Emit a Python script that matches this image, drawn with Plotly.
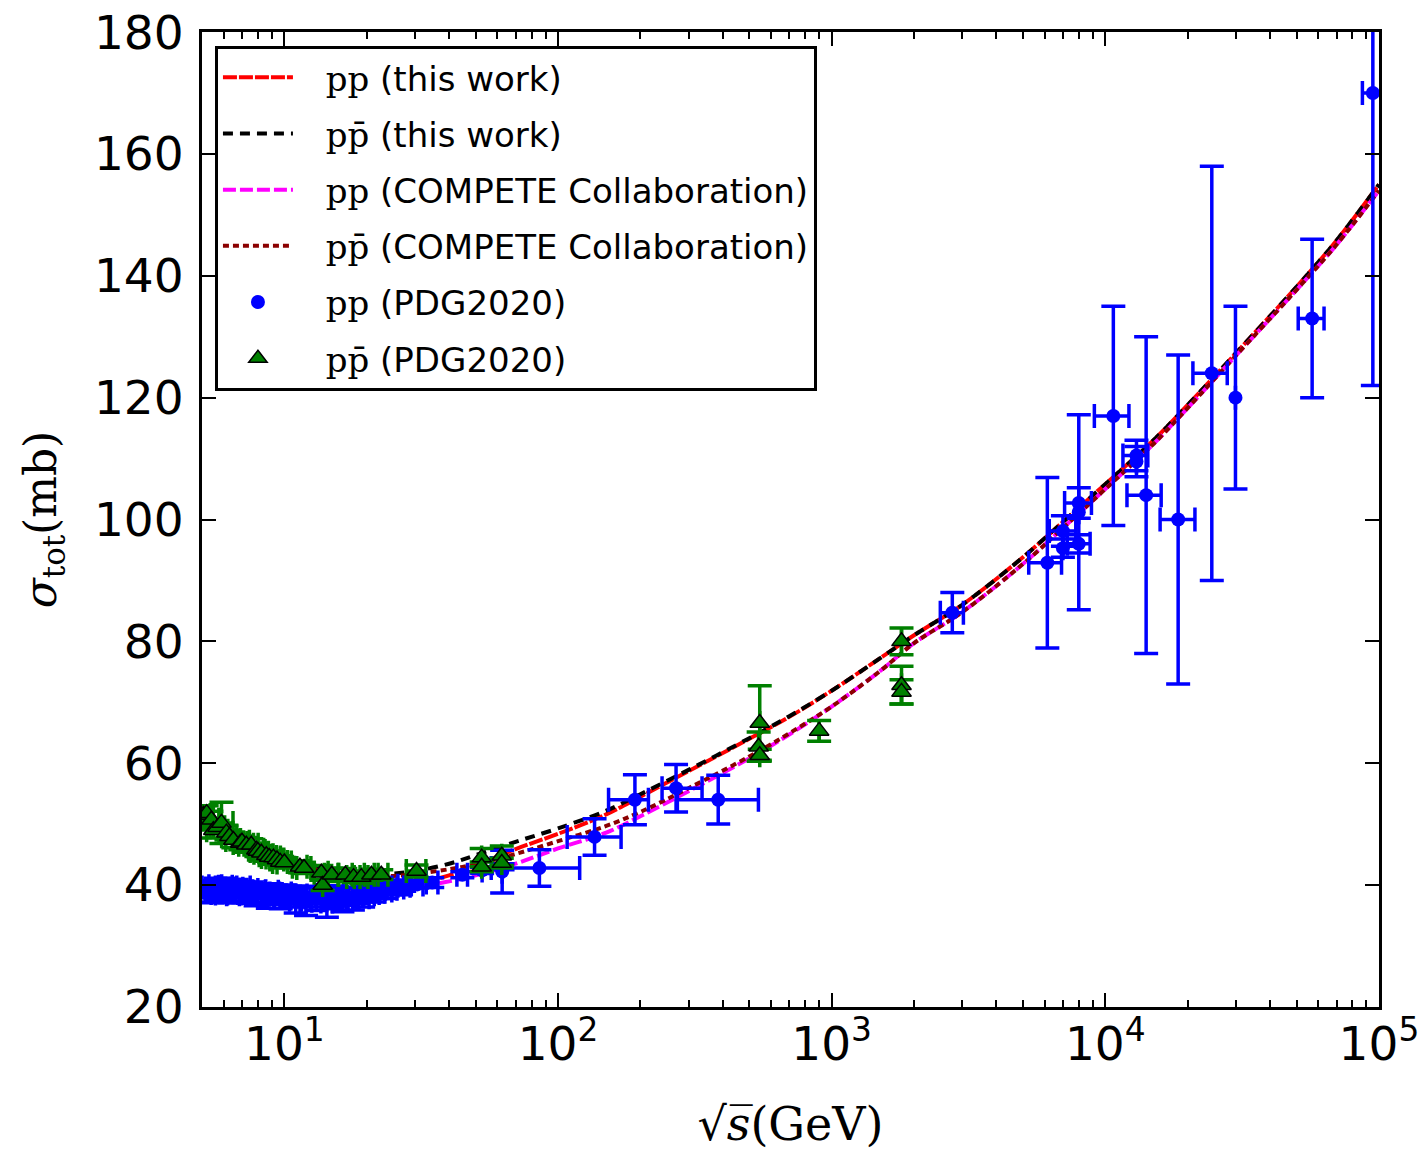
import plotly.graph_objects as go

# ---------------- model curves ----------------
E_curve = [5, 6, 7, 8, 10, 12, 15, 20, 25, 30, 40, 50, 70, 100, 150, 200, 300, 500, 700,
           1000, 1500, 2000, 3000, 5000, 7000, 10000, 15000, 20000, 30000, 50000, 70000, 100000]
pp_this = [40.3, 39.6, 39.2, 38.9, 38.6, 38.5, 38.6, 39.0, 39.5, 40.1, 41.6, 43.2, 45.9, 48.4,
           51.6, 54.5, 58.7, 64.0, 67.6, 71.9, 77.2, 81.0, 86.0, 93.8, 99.6, 105.8, 113.0,
           118.8, 127.3, 138.2, 145.8, 155.0]
pbp_this = [51.3, 49.0, 47.4, 46.2, 44.6, 43.6, 42.6, 42.0, 41.9, 42.3, 43.5, 44.9, 47.1, 49.3,
            52.2, 54.9, 58.9, 64.1, 67.7, 71.9, 77.2, 81.0, 86.0, 93.8, 99.6, 105.8, 113.0,
            118.8, 127.3, 138.2, 145.8, 155.0]
pp_comp = [39.2, 38.8, 38.5, 38.3, 38.1, 38.1, 38.3, 38.7, 39.2, 39.7, 40.6, 41.6, 43.5, 46.0,
           48.6, 51.3, 55.4, 60.8, 64.7, 69.3, 75.1, 79.7, 84.8, 92.7, 98.6, 105.0, 112.4,
           118.3, 126.9, 137.7, 145.1, 154.0]
pbp_comp = [50.5, 48.2, 46.7, 45.5, 43.9, 42.9, 42.0, 41.5, 41.5, 41.8, 42.6, 43.4, 45.1, 47.2,
            49.7, 52.0, 55.9, 61.1, 64.9, 69.3, 75.1, 79.7, 84.8, 92.7, 98.6, 105.0, 112.4,
            118.3, 126.9, 137.7, 145.1, 154.0]

# ---------------- pp data (PDG2020) ----------------
pp_E = [5.0, 5.15, 5.3, 5.45, 5.6, 5.75, 5.9, 6.1, 6.3, 6.5, 6.7, 6.9, 7.1, 7.35, 7.6, 7.85,
        8.1, 8.4, 8.7, 9.0, 9.3, 9.7, 10.1, 10.5, 11.0, 11.5, 12.0, 12.5, 13.1, 13.7, 14.3,
        15.0, 15.6, 16.3, 17.0, 17.8, 18.6, 19.4, 20.3, 21.2, 22.2, 23.5, 24.6, 26.0, 27.4,
        30.6, 34.7, 44.7, 52.8, 62.7, 62.5, 85.5, 136, 191, 270, 385,
        2760, 6140, 7000, 7000, 8000, 8000, 8000, 10700, 13000, 13000, 14100, 18460,
        24500, 29900, 57000, 95000]
pp_sig = [39.2, 38.7, 39.6, 38.9, 39.8, 39.1, 38.6, 39.7, 39.0, 38.5, 39.4, 38.8, 39.6, 38.6,
          39.2, 38.4, 39.0, 38.6, 38.2, 38.9, 38.4, 38.0, 38.6, 38.1, 37.6, 38.3, 37.4, 38.0,
          37.7, 38.4, 37.3, 37.9, 38.2, 37.6, 38.1, 37.7, 38.3, 38.0, 38.5, 38.7, 38.9, 39.1,
          39.4, 39.6, 39.9,
          40.1, 40.4, 41.7, 42.4, 43.0, 42.2, 42.8, 47.9, 54.0, 55.9, 54.0,
          84.7, 92.9, 98.1, 95.3, 102.7, 101.2, 96.0, 117.0, 110.5, 109.5, 104.0, 100.0,
          124.0, 120.0, 133.0, 170.0]
pp_ey = [1.2, 1.5, 1.0, 1.8, 1.3, 1.6, 1.1, 1.4, 1.9, 1.2, 1.5, 1.7, 1.0, 1.6, 1.3, 1.8, 1.2,
         1.5, 2.0, 1.3, 1.6, 1.9, 1.4, 1.7, 2.2, 1.3, 2.4, 1.6, 1.9, 1.2, 2.6, 1.8, 1.5, 2.0,
         1.4, 1.8, 1.3, 1.6, 1.2, 1.5, 1.1, 1.3, 1.0, 1.2, 0.9,
         0.6, 0.8, 0.5, 0.5, 0.5, 3.5, 3.0, 3.0, 4.1, 3.9, 4.0,
         3.3, 14.0, 2.5, 1.5, 2.5, 16.0, 1.5, 18.0, 2.5, 2.5, 26.0, 27.0,
         34.0, 15.0, 13.0, 48.0]
pp_ex_plus = [0.25, 0.25, 0.3, 0.3, 0.3, 0.3, 0.3, 0.35, 0.35, 0.35, 0.35, 0.4, 0.4, 0.4, 0.4,
              0.4, 0.45, 0.45, 0.45, 0.5, 0.5, 0.5, 0.5, 0.55, 0.55, 0.6, 0.6, 0.6, 0.65,
              0.7, 0.7, 0.75, 0.8, 0.8, 0.85, 0.9, 0.9, 1.0, 1.0, 1.0, 1.1, 1.2, 1.2, 1.3, 1.4,
              1.5, 1.7, 2.0, 0, 0, 0, 34.5, 34, 23, 66, 155,
              270, 780, 800, 0, 900, 0, 800, 1500, 1300, 0, 1900, 2800,
              3400, 0, 6000, 9000]
pp_ex_minus = [0.25, 0.25, 0.3, 0.3, 0.3, 0.3, 0.3, 0.35, 0.35, 0.35, 0.35, 0.4, 0.4, 0.4, 0.4,
               0.4, 0.45, 0.45, 0.45, 0.5, 0.5, 0.5, 0.5, 0.55, 0.55, 0.6, 0.6, 0.6, 0.65,
               0.7, 0.7, 0.75, 0.8, 0.8, 0.85, 0.9, 0.9, 1.0, 1.0, 1.0, 1.1, 1.2, 1.2, 1.3, 1.4,
               1.5, 1.7, 2.0, 0, 0, 0, 28.5, 28, 38, 30, 112,
               265, 890, 760, 0, 900, 0, 740, 1580, 1400, 0, 2100, 2600,
               3600, 0, 6300, 8000]

# ---------------- pbar-p data (PDG2020) ----------------
pb_E = [5.06, 5.2, 5.41, 5.5, 5.7, 5.89, 6.14, 6.3, 6.51, 6.9, 7.0, 7.26, 7.57, 7.9, 8.0,
        8.24, 8.59, 8.8, 9.12, 9.4, 9.66, 10.0, 11.4, 11.8, 13.65, 13.8, 14.9, 16.7, 17.9,
        19.1, 20.8, 22.6, 30.4, 52.6, 52.6, 62.3, 62.3, 541, 546, 546, 900, 1800, 1800, 1800]
pb_sig = [51.5, 51.8, 50.7, 49.0, 49.5, 50.2, 48.6, 48.0, 47.4, 46.9, 47.1, 46.6, 46.6, 45.8,
          45.6, 45.3, 44.9, 44.6, 44.5, 44.2, 43.8, 43.7, 43.0, 42.8, 42.0, 40.0, 41.7, 41.7,
          41.3, 41.3, 41.7, 41.7, 42.3, 44.5, 43.0, 44.8, 43.6, 62.7, 66.6, 61.3, 65.3, 80.0,
          72.8, 71.7]
pb_ey = [1.5, 1.2, 1.4, 1.3, 1.1, 3.4, 1.2, 1.0, 1.3, 1.1, 0.9, 1.2, 1.0, 1.1, 0.9, 1.2, 1.0,
         0.9, 1.1, 0.9, 1.0, 0.8, 1.0, 0.9, 1.2, 0.9, 1.1, 1.0, 0.9, 1.0, 0.9, 0.8, 1.0, 1.5,
         0.8, 1.6, 0.8, 2.4, 6.1, 1.0, 1.7, 2.2, 3.1, 2.0]
pb_ex = [0.3, 0.3, 0.35, 0.3, 0.35, 0.6, 0.35, 0.4, 0.4, 0.4, 0.45, 0.45, 0.45, 0.5, 0.5, 0.5,
         0.5, 0.55, 0.55, 0.55, 0.6, 0.6, 0.7, 0.7, 0.8, 0.0, 0.9, 1.0, 1.0, 1.1, 1.2, 1.3,
         2.5, 0, 0, 0, 0, 0, 0, 0, 0, 0, 0, 0]

# tick labels
x_tickvals = [10, 100, 1000, 10000, 100000]
x_ticktext = ["10<sup>1</sup>", "10<sup>2</sup>", "10<sup>3</sup>", "10<sup>4</sup>", "10<sup>5</sup>"]
y_tickvals = [20, 40, 60, 80, 100, 120, 140, 160, 180]

SERIF = "'DejaVu Serif'"
PAD = "\u2002\u00a0"
def lab(proc, rest):
    return "%s<span style=\"font-family:%s\">%s</span> %s" % (PAD, SERIF, proc, rest)

PP = "pp"
PPB = "pp\u0304"

LW = 4
fig = go.Figure()
fig.add_trace(go.Scatter(x=E_curve, y=pp_this, mode="lines", line_shape="spline",
                         line=dict(color="red", width=LW, dash="14px,2px"),
                         name=lab(PP, "(this work)"), legendgroup="a"))
fig.add_trace(go.Scatter(x=E_curve, y=pbp_this, mode="lines", line_shape="spline",
                         line=dict(color="black", width=LW, dash="10px,7px"),
                         name=lab(PPB, "(this work)"), legendgroup="b"))
fig.add_trace(go.Scatter(x=E_curve, y=pp_comp, mode="lines", line_shape="spline",
                         line=dict(color="magenta", width=LW, dash="13px,4px"),
                         name=lab(PP, "(COMPETE Collaboration)"), legendgroup="c"))
fig.add_trace(go.Scatter(x=E_curve, y=pbp_comp, mode="lines", line_shape="spline",
                         line=dict(color="#8b0000", width=LW, dash="6px,4px"),
                         name=lab(PPB, "(COMPETE Collaboration)"), legendgroup="d"))
fig.add_trace(go.Scatter(x=pp_E, y=pp_sig, mode="markers",
                         marker=dict(symbol="circle", size=14, color="blue"),
                         error_y=dict(type="data", array=pp_ey, color="blue", thickness=3.5, width=12),
                         error_x=dict(type="data", array=pp_ex_plus, arrayminus=pp_ex_minus,
                                      color="blue", thickness=3.5, width=12),
                         name=lab(PP, "(PDG2020)"), legendgroup="e"))
fig.add_trace(go.Scatter(x=pb_E, y=pb_sig, mode="markers",
                         marker=dict(symbol="triangle-up", size=17, color="green",
                                     line=dict(color="black", width=1.5)),
                         error_y=dict(type="data", array=pb_ey, color="green", thickness=3.5, width=12),
                         error_x=dict(type="data", array=pb_ex, color="green", thickness=3.5, width=12),
                         name=lab(PPB, "(PDG2020)"), legendgroup="f"))

axis_common = dict(showline=True, linewidth=3, linecolor="black", mirror="allticks",
                   ticks="inside", ticklen=14, tickwidth=2, tickcolor="black",
                   showgrid=False, zeroline=False, ticklabeloverflow="allow", automargin=False,
                   tickfont=dict(family="DejaVu Sans", size=47, color="black"))

fig.update_layout(
    width=1424, height=1151,
    margin=dict(l=202, r=45, t=32, b=144),
    plot_bgcolor="white", paper_bgcolor="white",
    xaxis=dict(type="log", range=[0.69897, 5.0002], tickmode="array",
               tickvals=x_tickvals, ticktext=x_ticktext, ticklabelstandoff=-6,
               minor=dict(ticks="inside", ticklen=7, tickwidth=2, tickcolor="black", dtick="D1"),
               title=dict(text="\u221a<i>s\u0305</i>(GeV)", standoff=48,
                          font=dict(family="DejaVu Serif", size=46, color="black")),
               **axis_common),
    yaxis=dict(range=[19.98, 180.02], tickmode="array", tickvals=y_tickvals, ticklabelstandoff=6,
               title=dict(text="<i>\u03c3</i><sub>tot</sub>(mb)", standoff=24,
                          font=dict(family="DejaVu Serif", size=44, color="black")),
               **axis_common),
    legend=dict(x=0.011, y=0.986, xanchor="left", yanchor="top",
                bgcolor="white", bordercolor="black", borderwidth=3,
                font=dict(family="DejaVu Sans", size=34, color="black"),
                itemwidth=70, tracegroupgap=9),
    showlegend=True,
)

fig.write_html("out.html", config={"displayModeBar": False},
               post_script="document.body.style.margin='0px';document.body.style.overflow='hidden';")
